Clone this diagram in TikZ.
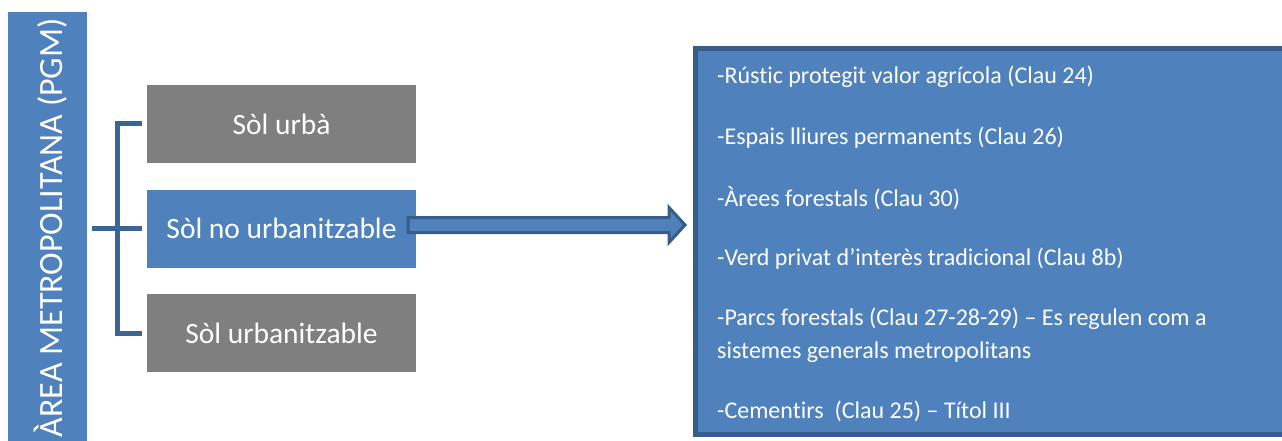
\documentclass[tikz,border=0pt]{standalone}
\usepackage{fontspec}
\setmainfont[Ligatures=NoCommon]{Carlito}
\usetikzlibrary{calc}
\definecolor{accblue}{HTML}{4F81BD}
\definecolor{darkblue}{HTML}{385D8A}
\definecolor{brk}{HTML}{3B6497}
\definecolor{boxgray}{HTML}{7F7F7F}
\tikzset{
  catbox/.style={rectangle, minimum width=269, minimum height=78, inner sep=0, outer sep=0, text=white, font=\fontsize{29.5}{34}\selectfont},
  bracketline/.style={draw=brk, line width=5},
  blockarrow/.style={fill=accblue, draw=darkblue, line width=3, line join=miter},
  itemtext/.style={anchor=west, inner sep=0, text=white, font=\fontsize{24}{33}\selectfont, align=left}
}
\begin{document}
\begin{tikzpicture}[x=1pt,y=-1pt]
\useasboundingbox (0,0) rectangle (1282,441);
\begin{scope}
\clip (0,0) rectangle (1282,441);
% left vertical bar
\fill[accblue] (8,12) rectangle (87,470);
\node[rotate=90, anchor=base east, inner sep=0, text=white, font=\fontsize{34}{40}\selectfont] (title) at (62,18) {ÀREA METROPOLITANA (PGM)};
% category boxes
\node[catbox, fill=boxgray] (ua) at (281.5,124) {Sòl urbà};
\node[catbox, fill=accblue] (no) at (281.5,228.5) {Sòl no urbanitzable};
\node[catbox, fill=boxgray] (ub) at (281.5,333) {Sòl urbanitzable};
% bracket
\draw[bracketline] ($(ua.west)+(-5,0)$) -- ($(ua.west)+(-30,0)$) -- ($(ub.west)+(-30,0)$) -- ($(ub.west)+(-5,0)$);
\draw[bracketline] ($(no.west)+(-55,0)$) -- ($(no.west)+(-5,0)$);
% right box
\node[rectangle, minimum width=600, minimum height=385.5, inner sep=0, outer sep=0, fill=accblue, draw=darkblue, line width=5, anchor=north west] (rbox) at (695.5,49) {};
% arrow
\coordinate (as) at ($(no.east)+(-8,-3.5)$);
\coordinate (at) at ($(rbox.west |- as)+(-10.5,0)$);
\draw[blockarrow] ($(as)+(0,-7.5)$) -- ($(at)+(-16,-7.5)$) -- ($(at)+(-16,-17.5)$) -- (at) -- ($(at)+(-16,17.5)$) -- ($(at)+(-16,7.5)$) -- ($(as)+(0,7.5)$) -- cycle;
% items
\node[itemtext] (r1) at (717,77) {-Rústic protegit valor agrícola (Clau 24)};
\node[itemtext] (r2) at (717,137.5) {-Espais lliures permanents (Clau 26)};
\node[itemtext] (r3) at (717,198) {-Àrees forestals (Clau 30)};
\node[itemtext] (r4) at (717,259) {-Verd privat d’interès tradicional (Clau 8b)};
\node[itemtext] (r5) at (717,335.5) {-Parcs forestals (Clau 27-28-29) – Es regulen com a\\sistemes generals metropolitans};
\node[itemtext] (r6) at (717,411) {-Cementirs\ \ (Clau 25) – Títol III};
\end{scope}
\end{tikzpicture}
\end{document}
